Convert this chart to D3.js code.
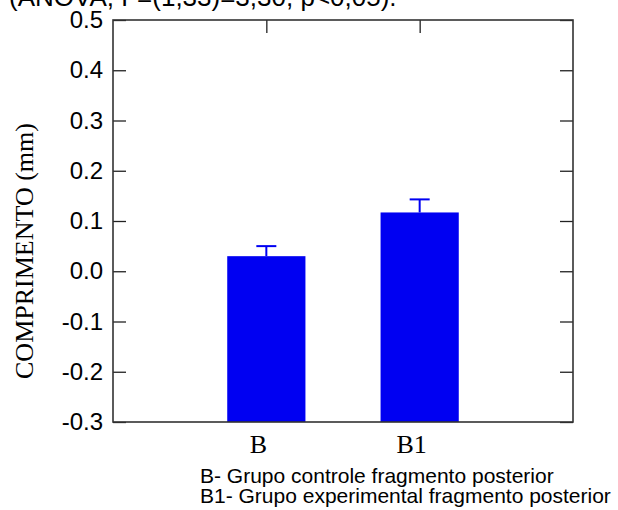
<!DOCTYPE html>
<html>
<head>
<meta charset="utf-8">
<script src="https://cdn.jsdelivr.net/npm/d3@7"></script>
<style>
  html, body { margin: 0; padding: 0; background: #fff; }
  svg { display: block; }
</style>
</head>
<body>
<svg id="chart" width="618" height="510"></svg>
<script>
// Data
const categories = ["B", "B1"];
const means = [0.030, 0.117];
const errors = [0.020, 0.026];
const yTicks = [0.5, 0.4, 0.3, 0.2, 0.1, 0.0, -0.1, -0.2, -0.3];
const footnotes = [
    "B- Grupo controle fragmento posterior",
    "B1- Grupo experimental fragmento posterior"
];
const caption = "(ANOVA, F=(1,33)=3,30, p<0,05).";

const width = 618;
const height = 510;
const margin = { left: 113, right: 45, top: 20, bottom: 88 };
const tickLen = 13;

const svg = d3.select("#chart");

// x positions 1 and 2 on a 0..3 axis, like the original plotting program
const x = d3.scaleLinear()
    .domain([0, 3])
    .range([margin.left, width - margin.right]);

const y = d3.scaleLinear()
    .domain([-0.3, 0.5])
    .range([height - margin.bottom, margin.top]);

const barW = x(0.51) - x(0);

// Caption cut off at the top of the picture
svg.append("text")
    .attr("x", 9)
    .attr("y", 6)
    .attr("font-family", "Liberation Sans, Arial, sans-serif")
    .attr("font-size", 26)
    .attr("fill", "#000")
    .text(caption);

// Bars start at the bottom of the frame
const bars = svg.append("g");
bars.selectAll("rect")
    .data(categories)
    .join("rect")
    .attr("x", (d, i) => x(i + 1) - barW / 2)
    .attr("width", barW)
    .attr("y", (d, i) => y(means[i]))
    .attr("height", (d, i) => y(-0.3) - y(means[i]))
    .attr("fill", "#0000f2");

// Error bars (upper only)
const err = svg.append("g")
    .attr("stroke", "#0000f2")
    .attr("stroke-width", 2);
err.selectAll("line.stem")
    .data(categories)
    .join("line")
    .attr("class", "stem")
    .attr("x1", (d, i) => x(i + 1))
    .attr("x2", (d, i) => x(i + 1))
    .attr("y1", (d, i) => y(means[i]))
    .attr("y2", (d, i) => y(means[i] + errors[i]));
err.selectAll("line.cap")
    .data(categories)
    .join("line")
    .attr("class", "cap")
    .attr("x1", (d, i) => x(i + 1) - 10)
    .attr("x2", (d, i) => x(i + 1) + 10)
    .attr("y1", (d, i) => y(means[i] + errors[i]))
    .attr("y2", (d, i) => y(means[i] + errors[i]));

// Left axis with ticks pointing inward
const yAxis = svg.append("g")
    .attr("transform", `translate(${margin.left},0)`)
    .call(d3.axisLeft(y)
        .tickValues(yTicks)
        .tickSizeInner(-tickLen)
        .tickSizeOuter(0)
        .tickPadding(10)
        .tickFormat(d => d.toFixed(1)));
yAxis.select(".domain").remove();
yAxis.selectAll(".tick line").attr("stroke", "#222").attr("stroke-width", 1.3);
yAxis.selectAll(".tick text")
    .attr("font-family", "Liberation Sans, Arial, sans-serif")
    .attr("font-size", 24)
    .attr("fill", "#000");

// Right axis mirror ticks
const yRight = svg.append("g")
    .attr("transform", `translate(${width - margin.right},0)`)
    .call(d3.axisRight(y)
        .tickValues(yTicks)
        .tickSizeInner(-tickLen)
        .tickSizeOuter(0)
        .tickFormat(""));
yRight.select(".domain").remove();
yRight.selectAll(".tick line").attr("stroke", "#222").attr("stroke-width", 1.3);

// Top ticks at the bar positions
const xTop = svg.append("g")
    .attr("transform", `translate(0,${margin.top})`)
    .call(d3.axisTop(x)
        .tickValues([1, 2])
        .tickSizeInner(-tickLen)
        .tickSizeOuter(0)
        .tickFormat(""));
xTop.select(".domain").remove();
xTop.selectAll(".tick line").attr("stroke", "#222").attr("stroke-width", 1.3);

// Frame
svg.append("rect")
    .attr("x", margin.left)
    .attr("y", margin.top)
    .attr("width", width - margin.right - margin.left)
    .attr("height", y(-0.3) - margin.top)
    .attr("fill", "none")
    .attr("stroke", "#333")
    .attr("stroke-width", 1.6);

// Category labels (serif)
svg.append("g")
    .selectAll("text")
    .data(categories)
    .join("text")
    .attr("x", (d, i) => x(i + 1) - 8)
    .attr("y", 453)
    .attr("text-anchor", "middle")
    .attr("font-family", "Liberation Serif, Times New Roman, serif")
    .attr("font-size", 26)
    .attr("fill", "#000")
    .text(d => d);

// Y axis title
svg.append("text")
    .attr("transform", "translate(33,251) rotate(-90)")
    .attr("text-anchor", "middle")
    .attr("font-family", "Liberation Serif, Times New Roman, serif")
    .attr("font-size", 26)
    .attr("fill", "#000")
    .text("COMPRIMENTO (mm)");

// Footnotes under the axis
svg.append("g")
    .selectAll("text")
    .data(footnotes)
    .join("text")
    .attr("x", 200)
    .attr("y", (d, i) => 483 + i * 20)
    .attr("font-family", "Liberation Sans, Arial, sans-serif")
    .attr("font-size", 21)
    .attr("fill", "#000")
    .text(d => d);
</script>
</body>
</html>
